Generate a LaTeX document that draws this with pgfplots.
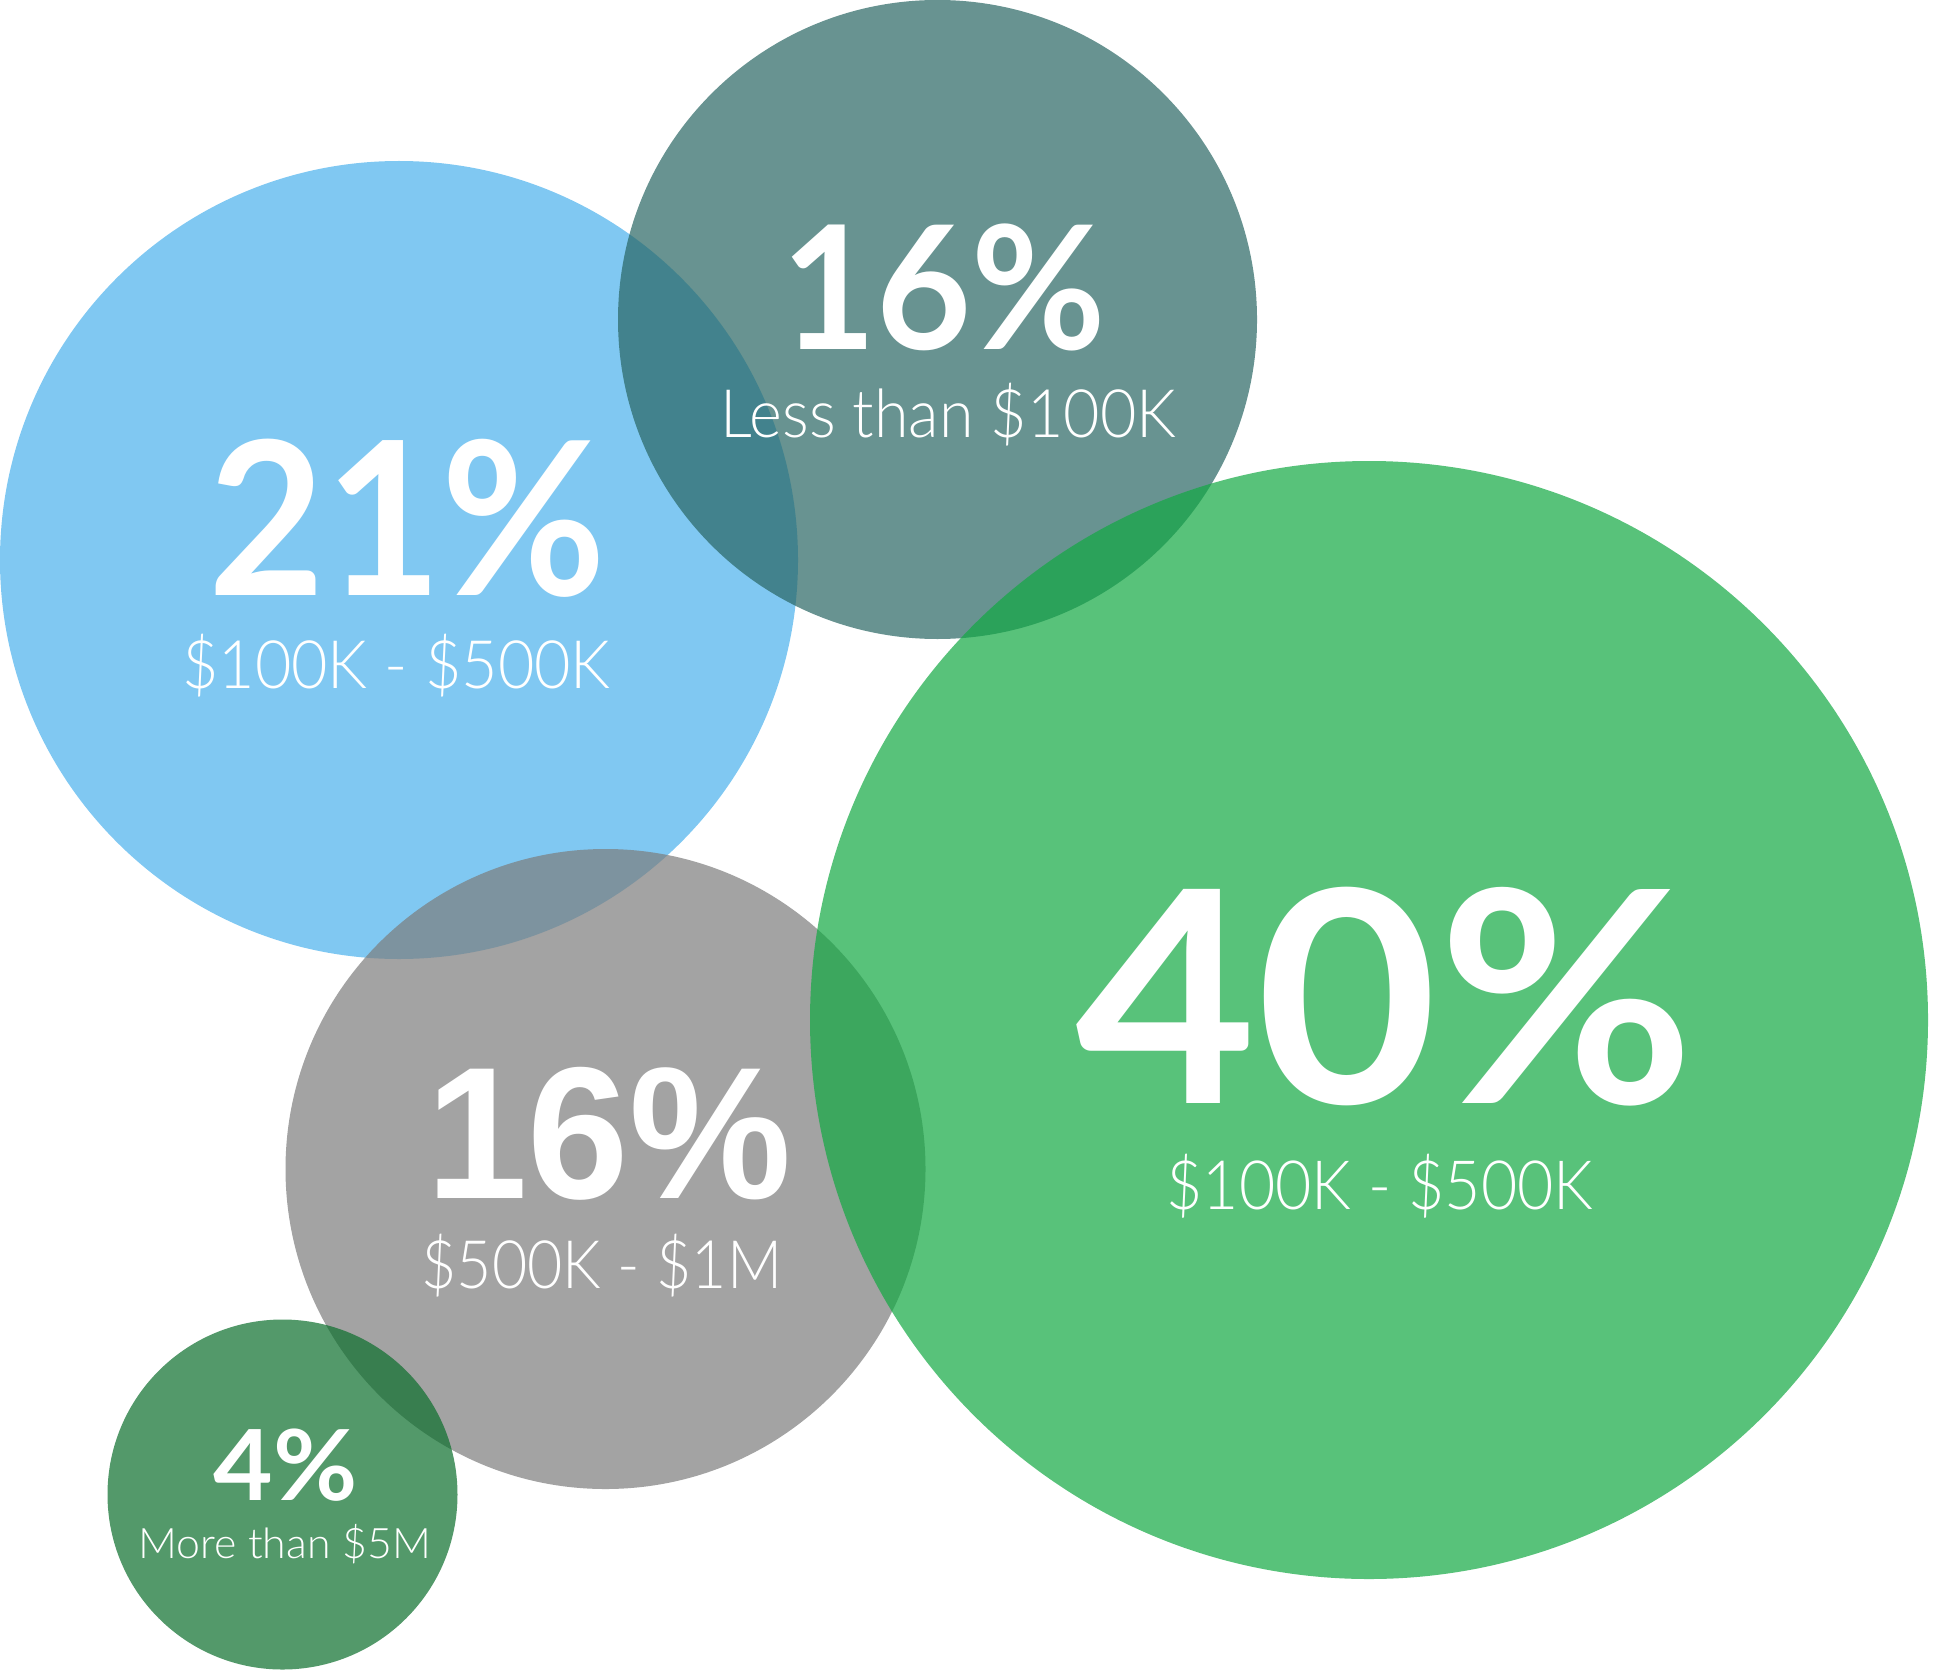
\documentclass[border=0pt]{standalone}
\usepackage{pgfplots}
\pgfplotsset{compat=1.18}
\usepackage{graphicx}
\usepackage{fontspec}
\setmainfont{Lato}
\newfontfamily\lightfont{Lato Light}
\newfontfamily\helv{Liberation Sans}
\definecolor{cBlue}{RGB}{76,178,237}
\definecolor{cTeal}{RGB}{42,103,100}
\definecolor{cGray}{RGB}{125,125,125}
\definecolor{cGreen}{RGB}{20,169,68}
\definecolor{cDkGreen}{RGB}{13,111,45}
\begin{document}
\begin{tikzpicture}
\begin{axis}[x=0.25pt, y=0.25pt, xmin=0, xmax=1934, ymin=0, ymax=1674,
  hide axis, clip=false]
\path (axis cs:0,0) rectangle (axis cs:1934,1674);
% circles: centre (x,y) in pixel units, radius as mark size (0.25pt per unit)
\addplot[only marks, mark=*, mark size=99.75pt, mark options={draw opacity=0, line width=0pt, fill=cBlue, fill opacity=0.71}] coordinates {(399,1114)};
\addplot[only marks, mark=*, mark size=79.875pt, mark options={draw opacity=0, line width=0pt, fill=cTeal, fill opacity=0.71}] coordinates {(937.5,1354.5)};
\addplot[only marks, mark=*, mark size=80pt, mark options={draw opacity=0, line width=0pt, fill=cGray, fill opacity=0.71}] coordinates {(605.5,505)};
\addplot[only marks, mark=*, mark size=139.75pt, mark options={draw opacity=0, line width=0pt, fill=cGreen, fill opacity=0.71}] coordinates {(1369,654)};
\addplot[only marks, mark=*, mark size=43.75pt, mark options={draw opacity=0, line width=0pt, fill=cDkGreen, fill opacity=0.71}] coordinates {(282.5,179.5)};
% label anchors
\coordinate (a1) at (axis cs:407.5,1079);
\coordinate (b1) at (axis cs:396.5,986);
\coordinate (a2) at (axis cs:944,1324);
\coordinate (b2) at (axis cs:948.5,1236);
\coordinate (a3) at (axis cs:1385,571);
\coordinate (b3) at (axis cs:1380,465);
\coordinate (a4) at (axis cs:609,476);
\coordinate (b4) at (axis cs:602,386);
\coordinate (a5) at (axis cs:285.5,174);
\coordinate (b5) at (axis cs:284.5,116);
\end{axis}
\tikzset{lbl/.style={anchor=base, text=white, inner sep=0pt}}
\node[lbl, font=\fontsize{53.5}{54}\selectfont\bfseries] at (a1) {\scalebox{0.94}[1]{21\%}};
\node[lbl, font=\lightfont\fontsize{16.7}{17}\selectfont] at (b1) {\scalebox{0.94}[1]{\$100K - \$500K}};
\node[lbl, font=\fontsize{43}{43}\selectfont\bfseries] at (a2) {\scalebox{0.954}[1]{16\%}};
\node[lbl, font=\lightfont\fontsize{16.7}{17}\selectfont] at (b2) {\scalebox{0.94}[1]{Less than \$100K}};
\node[lbl, font=\fontsize{74}{74}\selectfont\bfseries] at (a3) {\scalebox{1.056}[1]{40\%}};
\node[lbl, font=\lightfont\fontsize{17}{17}\selectfont] at (b3) {\scalebox{0.92}[1]{\$100K - \$500K}};
\node[lbl, font=\helv\fontsize{47}{47}\selectfont\bfseries] at (a4) {\scalebox{0.97}[1]{16\%}};
\node[lbl, font=\lightfont\fontsize{16.7}{17}\selectfont] at (b4) {\scalebox{0.91}[1]{\$500K - \$1M}};
\node[lbl, font=\fontsize{24.5}{25}\selectfont\bfseries] at (a5) {\scalebox{1.05}[1]{4\%}};
\node[lbl, font=\lightfont\fontsize{10.5}{11}\selectfont] at (b5) {\scalebox{1.02}[1]{More than \$5M}};
\end{tikzpicture}
\end{document}
